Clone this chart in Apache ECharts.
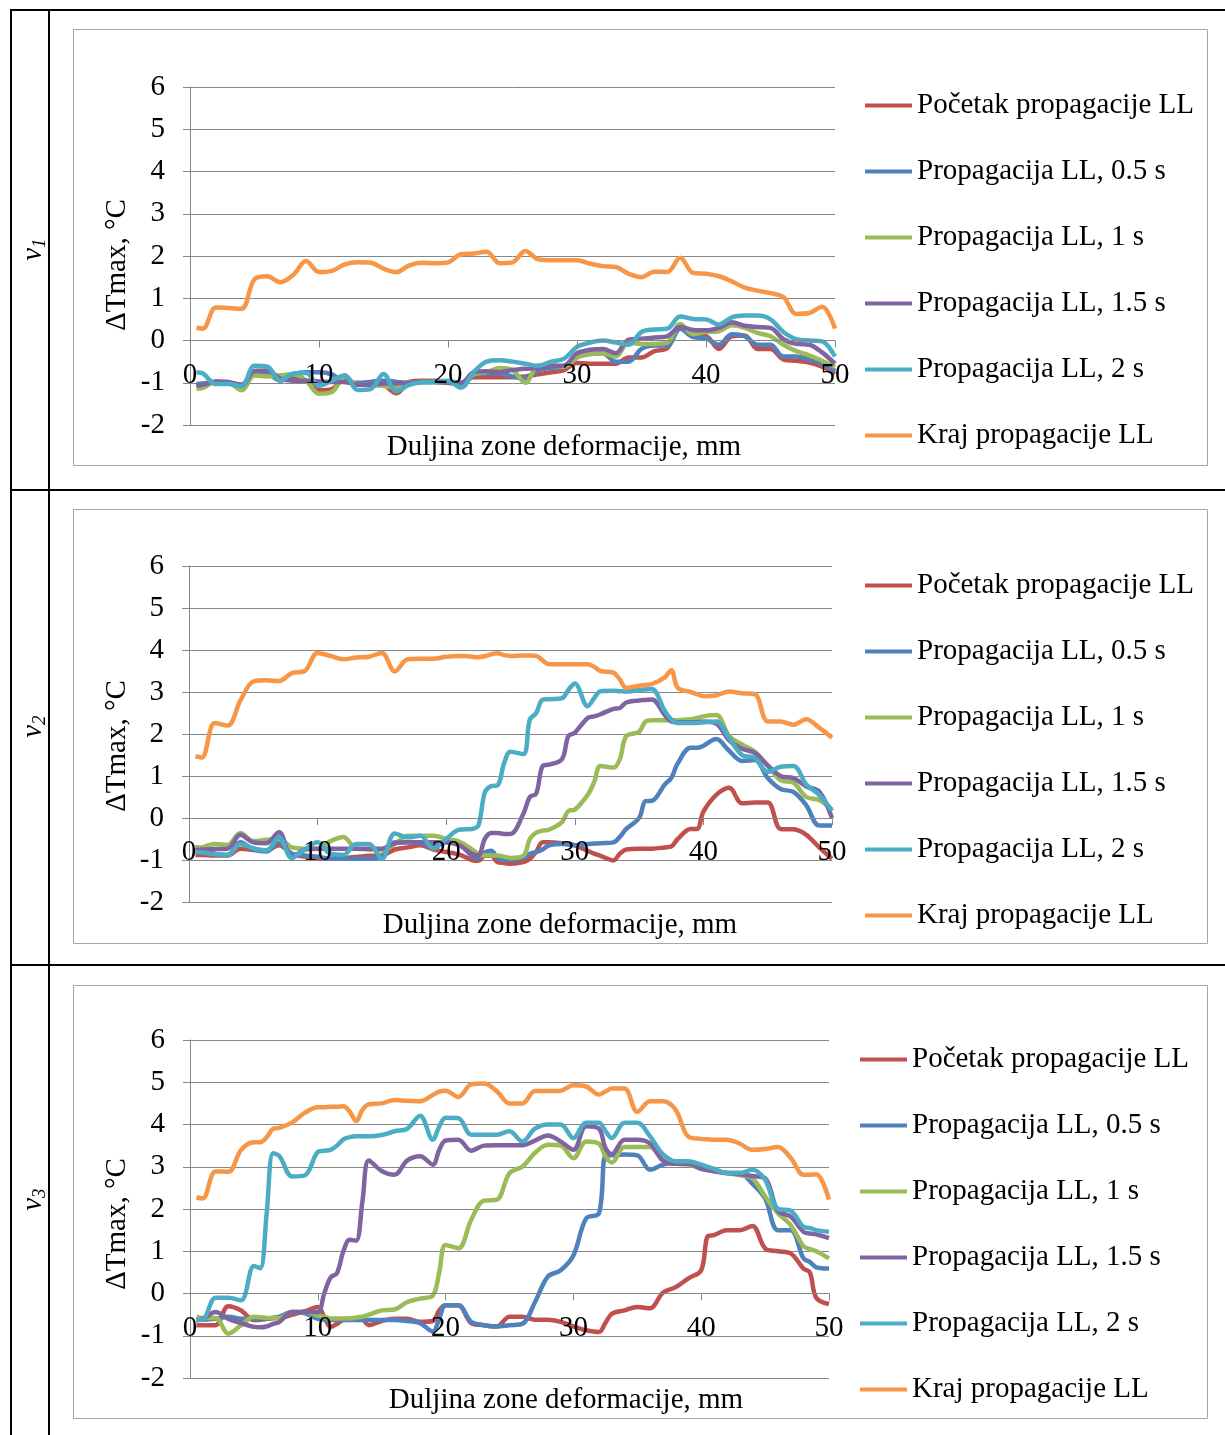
<!DOCTYPE html>
<html>
<head>
<meta charset="utf-8">
<script src="https://cdn.jsdelivr.net/npm/echarts@6/dist/echarts.min.js"></script>
<style>
  html, body { margin: 0; padding: 0; background: #fff; }
  #main { width: 1225px; height: 1435px; }
</style>
</head>
<body>
<div id="main"></div>
<script>
const names = ['Početak propagacije LL', 'Propagacija LL, 0.5 s', 'Propagacija LL, 1 s',
  'Propagacija LL, 1.5 s', 'Propagacija LL, 2 s', 'Kraj propagacije LL'];
const rowTags = ['1', '2', '3'];

// ---- v1: x positions (mm) and the six curves ----
const xs1 = [0.5, 1, 2, 3, 4, 5, 6, 7, 8, 9, 10,
  11, 12, 13, 14, 15, 16, 17, 18, 19, 20,
  21, 22, 23, 24, 25, 26, 27, 28, 29, 30,
  31, 32, 33, 34, 35, 36, 37, 38, 39, 40,
  41, 42, 43, 44, 45, 46, 47, 48, 49, 50];
const v1Start = [-1.05, -1.03, -0.98, -1.0, -1.05, -0.75, -0.78, -0.92, -0.9, -0.95, -1.18,
  -1.15, -0.9, -1.05, -1.02, -1.05, -1.25, -0.98, -0.95, -0.95, -0.97,
  -1.0, -0.87, -0.87, -0.87, -0.87, -0.85, -0.8, -0.75, -0.7, -0.53,
  -0.55, -0.55, -0.55, -0.4, -0.4, -0.25, -0.18, 0.32, 0.12, 0.1,
  -0.2, 0.1, 0.12, -0.2, -0.2, -0.45, -0.48, -0.52, -0.62, -0.79];
const v1Half = [-1.03, -1.02, -0.98, -1.0, -1.05, -0.75, -0.78, -0.95, -0.8, -0.75, -0.75,
  -0.8, -0.98, -1.0, -0.98, -0.95, -0.98, -1.0, -0.98, -0.98, -1.0,
  -1.0, -0.8, -0.78, -0.78, -0.85, -0.9, -0.7, -0.65, -0.62, -0.4,
  -0.32, -0.3, -0.5, -0.5, -0.2, -0.12, -0.12, 0.28, 0.08, 0.05,
  -0.1, 0.15, 0.1, -0.1, -0.1, -0.38, -0.38, -0.45, -0.55, -0.72];
const v1One = [-1.14, -1.12, -0.98, -1.0, -1.18, -0.83, -0.85, -0.82, -0.8, -0.95, -1.26,
  -1.22, -0.85, -1.05, -1.05, -1.08, -1.1, -1.0, -0.98, -0.98, -1.0,
  -1.05, -0.8, -0.75, -0.65, -0.7, -1.0, -0.6, -0.6, -0.62, -0.4,
  -0.32, -0.3, -0.38, -0.05, -0.08, -0.08, -0.05, 0.39, 0.15, 0.2,
  0.22, 0.36, 0.3, 0.18, 0.1, -0.1, -0.25, -0.35, -0.48, -0.63];
const v1OneHalf = [-1.07, -1.05, -0.97, -0.98, -1.07, -0.72, -0.71, -0.9, -0.95, -0.95, -0.97,
  -0.98, -0.98, -1.05, -1.05, -1.02, -1.02, -1.0, -0.98, -0.98, -1.0,
  -1.02, -0.75, -0.73, -0.75, -0.7, -0.67, -0.65, -0.6, -0.59, -0.3,
  -0.22, -0.2, -0.3, 0.02, 0.04, 0.07, 0.1, 0.32, 0.25, 0.24,
  0.3, 0.43, 0.35, 0.32, 0.3, 0.03, -0.08, -0.1, -0.28, -0.55];
const v1Two = [-0.75, -0.78, -1.03, -1.03, -1.08, -0.6, -0.62, -0.95, -0.78, -0.77, -1.07,
  -0.95, -0.82, -1.17, -1.15, -0.79, -1.2, -1.05, -0.99, -0.98, -0.95,
  -1.12, -0.75, -0.5, -0.47, -0.5, -0.55, -0.6, -0.5, -0.43, -0.15,
  -0.05, 0.0, -0.05, -0.1, 0.2, 0.26, 0.28, 0.57, 0.51, 0.5,
  0.38, 0.55, 0.59, 0.59, 0.5, 0.2, 0.03, 0.0, -0.02, -0.38];
const v1End = [0.3, 0.28, 0.78, 0.77, 0.75, 1.45, 1.52, 1.38, 1.55, 1.88, 1.62,
  1.65, 1.8, 1.85, 1.84, 1.7, 1.62, 1.78, 1.84, 1.83, 1.85,
  2.04, 2.06, 2.1, 1.83, 1.85, 2.12, 1.92, 1.9, 1.9, 1.9,
  1.82, 1.76, 1.74, 1.58, 1.5, 1.63, 1.62, 1.96, 1.6, 1.58,
  1.52, 1.4, 1.25, 1.18, 1.12, 1.03, 0.63, 0.65, 0.8, 0.28];

// ---- v2 (extra half-mm points where the curves step up) ----
const xs2 = [0.5, 1, 2, 3, 4, 5, 6, 7, 8, 9, 10,
  11, 12, 13, 14, 15, 16, 17, 18, 19, 20,
  21, 22, 22.5, 23, 23.5, 24, 24.5, 25, 26, 26.5, 27, 27.5, 28, 29, 29.5, 30,
  31, 31.5, 32, 33, 33.5, 34, 35, 35.5, 36, 37, 37.5, 38, 39, 39.5, 40,
  41, 42, 43, 44, 45, 46, 47, 48, 49, 50];
const v2Start = [-0.88, -0.88, -0.89, -0.89, -0.73, -0.76, -0.77, -0.65, -0.85, -0.92, -0.95,
  -0.97, -0.95, -0.93, -0.9, -0.89, -0.75, -0.7, -0.65, -0.75, -0.81,
  -0.87, -1.0, -1.02, -0.9, -0.9, -1.05, -1.07, -1.09, -1.05, -0.97, -0.8, -0.58, -0.58, -0.6, -0.62, -0.65,
  -0.78, -0.85, -0.9, -1.01, -0.85, -0.75, -0.73, -0.73, -0.73, -0.7, -0.68, -0.5, -0.26, -0.26, 0.15,
  0.55, 0.72, 0.35, 0.37, 0.37, -0.26, -0.27, -0.4, -0.7, -0.97];
const v2Half = [-0.7, -0.72, -0.85, -0.88, -0.58, -0.75, -0.8, -0.58, -0.85, -0.89, -0.92,
  -0.97, -0.97, -0.97, -0.97, -0.9, -0.58, -0.58, -0.6, -0.65, -0.58,
  -0.62, -0.9, -0.95, -0.82, -0.78, -0.95, -1.0, -1.0, -0.95, -0.85, -0.81, -0.75, -0.65, -0.62, -0.63, -0.65,
  -0.62, -0.61, -0.6, -0.58, -0.45, -0.26, 0.0, 0.4, 0.41, 0.8, 0.95, 1.3, 1.67, 1.67, 1.72,
  1.88, 1.6, 1.36, 1.38, 0.95, 0.69, 0.62, 0.3, -0.18, -0.18];
const v2One = [-0.73, -0.7, -0.62, -0.64, -0.36, -0.55, -0.52, -0.5, -0.7, -0.73, -0.73,
  -0.55, -0.45, -0.73, -0.75, -0.77, -0.62, -0.42, -0.42, -0.42, -0.5,
  -0.56, -0.75, -0.85, -0.89, -0.89, -0.89, -0.92, -0.95, -0.9, -0.5, -0.35, -0.3, -0.28, -0.1, 0.17, 0.2,
  0.55, 0.85, 1.24, 1.2, 1.4, 1.95, 2.05, 2.3, 2.33, 2.33, 2.33, 2.33, 2.35, 2.38, 2.42,
  2.45, 1.95, 1.75, 1.58, 1.25, 0.9, 0.84, 0.5, 0.43, 0.2];
const v2OneHalf = [-0.77, -0.75, -0.74, -0.73, -0.4, -0.58, -0.6, -0.34, -0.95, -0.75, -0.73,
  -0.73, -0.73, -0.73, -0.73, -0.73, -0.6, -0.58, -0.58, -0.58, -0.58,
  -0.65, -0.85, -0.89, -0.5, -0.36, -0.36, -0.38, -0.38, 0.1, 0.5, 0.58, 1.24, 1.27, 1.4, 1.95, 2.03,
  2.38, 2.42, 2.47, 2.6, 2.62, 2.75, 2.8, 2.81, 2.82, 2.45, 2.3, 2.28, 2.28, 2.28, 2.3,
  2.25, 1.85, 1.65, 1.55, 1.25, 1.0, 0.95, 0.75, 0.63, 0.0];
const v2Two = [-0.81, -0.82, -0.86, -0.88, -0.62, -0.72, -0.77, -0.46, -0.95, -0.75, -0.58,
  -0.85, -0.88, -0.62, -0.62, -0.97, -0.37, -0.46, -0.42, -0.73, -0.5,
  -0.28, -0.26, -0.18, 0.6, 0.76, 0.78, 1.3, 1.58, 1.52, 2.34, 2.5, 2.82, 2.83, 2.85, 3.05, 3.2,
  2.66, 2.85, 3.02, 3.03, 3.02, 3.01, 3.05, 3.06, 3.07, 2.55, 2.35, 2.26, 2.26, 2.26, 2.28,
  2.3, 1.9, 1.5, 1.43, 1.1, 1.22, 1.24, 0.8, 0.55, 0.17];
const v2End = [1.47, 1.44, 2.26, 2.2, 2.8, 3.25, 3.28, 3.26, 3.45, 3.5, 3.93,
  3.86, 3.78, 3.82, 3.84, 3.93, 3.49, 3.78, 3.79, 3.79, 3.84,
  3.86, 3.84, 3.83, 3.85, 3.9, 3.92, 3.88, 3.86, 3.87, 3.87, 3.86, 3.75, 3.66, 3.66, 3.66, 3.66,
  3.66, 3.6, 3.5, 3.46, 3.3, 3.1, 3.15, 3.17, 3.19, 3.35, 3.52, 3.1, 3.0, 2.95, 2.9,
  2.92, 3.01, 2.97, 2.95, 2.3, 2.3, 2.22, 2.35, 2.15, 1.91];

// ---- v3 ----
const xs3 = [0.5, 1, 2, 3, 4, 5, 5.5, 6, 6.5, 7, 8, 9, 10,
  10.5, 11, 11.5, 12, 12.5, 13, 13.5, 14, 15, 16, 17, 18, 19, 19.5, 20,
  21, 22, 23, 24, 25, 26, 27, 28, 29, 30, 31, 32, 32.5, 33, 34, 35, 36, 37, 38, 39, 40, 40.5,
  41, 42, 43, 44, 45, 46, 47, 48, 48.5, 49, 50];
const v3Start = [-0.75, -0.75, -0.75, -0.3, -0.4, -0.63, -0.62, -0.6, -0.58, -0.58, -0.5, -0.42, -0.32,
  -0.55, -0.79, -0.72, -0.62, -0.6, -0.6, -0.62, -0.75, -0.65, -0.6, -0.6, -0.67, -0.65, -0.4, -0.28,
  -0.28, -0.7, -0.75, -0.78, -0.55, -0.55, -0.62, -0.62, -0.67, -0.78, -0.87, -0.91, -0.7, -0.48, -0.4, -0.32, -0.35, 0.02, 0.15, 0.36, 0.55, 1.35,
  1.38, 1.5, 1.5, 1.6, 1.07, 1.0, 0.95, 0.59, 0.5, -0.1, -0.25];
const v3Half = [-0.63, -0.62, -0.6, -0.55, -0.6, -0.6, -0.6, -0.6, -0.58, -0.55, -0.44, -0.47, -0.6,
  -0.62, -0.63, -0.63, -0.63, -0.63, -0.63, -0.63, -0.63, -0.63, -0.63, -0.65, -0.7, -0.9, -0.6, -0.28,
  -0.28, -0.67, -0.75, -0.78, -0.75, -0.72, -0.2, 0.4, 0.55, 0.9, 1.78, 1.9, 3.26, 3.27, 3.29, 3.27, 2.93, 3.05, 3.1, 3.1, 3.0, 2.97,
  2.92, 2.85, 2.85, 2.6, 2.25, 1.5, 1.5, 0.83, 0.75, 0.62, 0.59];
const v3One = [-0.55, -0.58, -0.58, -0.95, -0.75, -0.55, -0.56, -0.58, -0.58, -0.58, -0.44, -0.44, -0.52,
  -0.55, -0.59, -0.59, -0.59, -0.59, -0.57, -0.55, -0.5, -0.4, -0.38, -0.2, -0.12, -0.05, 0.5, 1.15,
  1.07, 1.74, 2.2, 2.22, 2.85, 3.0, 3.33, 3.52, 3.5, 3.2, 3.6, 3.55, 3.25, 3.1, 3.47, 3.47, 3.47, 3.15, 3.07, 3.05, 2.95, 2.92,
  2.9, 2.85, 2.8, 2.73, 2.3, 1.9, 1.62, 1.12, 1.05, 1.0, 0.83];
const v3OneHalf = [-0.63, -0.6, -0.44, -0.6, -0.7, -0.79, -0.8, -0.78, -0.72, -0.67, -0.44, -0.44, -0.44,
  0.0, 0.38, 0.48, 1.0, 1.27, 1.25, 2.2, 3.15, 2.9, 2.81, 3.15, 3.25, 3.05, 3.4, 3.62,
  3.64, 3.38, 3.5, 3.51, 3.51, 3.51, 3.62, 3.74, 3.6, 3.4, 3.96, 3.9, 3.45, 3.3, 3.64, 3.64, 3.55, 3.15, 3.07, 3.07, 2.95, 2.92,
  2.89, 2.85, 2.83, 2.78, 2.73, 1.95, 1.82, 1.46, 1.42, 1.4, 1.31];
const v3Two = [-0.63, -0.62, -0.1, -0.1, -0.16, 0.65, 0.6, 1.9, 3.32, 3.25, 2.77, 2.8, 3.35,
  3.38, 3.4, 3.5, 3.65, 3.7, 3.72, 3.72, 3.72, 3.75, 3.84, 3.9, 4.21, 3.64, 3.95, 4.16,
  4.15, 3.76, 3.76, 3.76, 3.84, 3.6, 3.9, 4.0, 4.0, 3.68, 4.04, 4.04, 3.85, 3.68, 4.04, 4.04, 3.72, 3.3, 3.13, 3.13, 3.05, 3.0,
  2.95, 2.85, 2.85, 2.93, 2.69, 2.0, 1.96, 1.58, 1.55, 1.5, 1.46];
const v3End = [2.27, 2.25, 2.89, 2.88, 3.4, 3.58, 3.58, 3.7, 3.9, 3.92, 4.05, 4.28, 4.41,
  4.41, 4.42, 4.42, 4.43, 4.3, 4.08, 4.35, 4.48, 4.5, 4.58, 4.56, 4.55, 4.7, 4.78, 4.8,
  4.65, 4.95, 4.97, 4.79, 4.5, 4.5, 4.79, 4.79, 4.8, 4.93, 4.9, 4.71, 4.78, 4.85, 4.85, 4.3, 4.55, 4.55, 4.35, 3.71, 3.66, 3.65,
  3.64, 3.64, 3.55, 3.4, 3.42, 3.47, 3.21, 2.81, 2.81, 2.82, 2.22];

const colors = ['#C0504D', '#4F81BD', '#9BBB59', '#8064A2', '#4BACC6', '#F79646'];
const FONT = '"Liberation Serif", "Times New Roman", serif';
const FS = 29;
const GRAY = '#868686';
const Y_MIN = -2, Y_MAX = 6;

// layout of the three table rows
const panels = [
  { xs: xs1, series: [v1Start, v1Half, v1One, v1OneHalf, v1Two, v1End],
    grid: { left: 190, top: 87, width: 645, height: 338 },
    legend: { left: 865, top: 91 }, frame: [73.5, 29.5, 1134, 436],
    yTitle: [117, 265], xTitle: [564, 447], rowMid: 250 },
  { xs: xs2, series: [v2Start, v2Half, v2One, v2OneHalf, v2Two, v2End],
    grid: { left: 189, top: 566, width: 643, height: 336 },
    legend: { left: 865, top: 571 }, frame: [73.5, 509.5, 1134, 434],
    yTitle: [117, 746], xTitle: [560, 925], rowMid: 727 },
  { xs: xs3, series: [v3Start, v3Half, v3One, v3OneHalf, v3Two, v3End],
    grid: { left: 190, top: 1040, width: 639, height: 338 },
    legend: { left: 860, top: 1045 }, frame: [73.5, 985.5, 1134, 433],
    yTitle: [117, 1224], xTitle: [566, 1400], rowMid: 1200 }
];

const graphics = [];

// table borders
const tableLines = [[10, 10, 1225, 10], [10, 490, 1225, 490], [10, 965, 1225, 965],
  [11, 9, 11, 1435], [49, 9, 49, 1435]];
tableLines.forEach(l => graphics.push({
  type: 'line', silent: true,
  shape: { x1: l[0], y1: l[1], x2: l[2], y2: l[3] },
  style: { stroke: '#000', lineWidth: 2 }
}));

panels.forEach((p, i) => {
  graphics.push({
    type: 'rect', silent: true, z: -1,
    shape: { x: p.frame[0], y: p.frame[1], width: p.frame[2], height: p.frame[3] },
    style: { fill: null, stroke: '#a6a6a6', lineWidth: 1 }
  });
  graphics.push({
    type: 'text', silent: true, x: p.yTitle[0], y: p.yTitle[1], rotation: Math.PI / 2,
    style: { text: 'ΔTmax, °C', font: FS + 'px ' + FONT, fill: '#000',
      align: 'center', verticalAlign: 'middle', textAlign: 'center', textVerticalAlign: 'middle' }
  });
  graphics.push({
    type: 'text', silent: true, x: p.xTitle[0], y: p.xTitle[1],
    style: { text: 'Duljina zone deformacije, mm', font: FS + 'px ' + FONT, fill: '#000',
      align: 'center', verticalAlign: 'middle', textAlign: 'center', textVerticalAlign: 'middle' }
  });
  // row label v1 / v2 / v3, rotated, with subscript
  graphics.push({
    type: 'group', x: 35, y: p.rowMid, rotation: Math.PI / 2, silent: true,
    children: [
      { type: 'text', x: 2, y: -2,
        style: { text: 'v', font: 'italic 29px ' + FONT, fill: '#000',
          align: 'right', verticalAlign: 'middle', textAlign: 'right', textVerticalAlign: 'middle' } },
      { type: 'text', x: 2, y: 5,
        style: { text: rowTags[i], font: 'italic 19px ' + FONT, fill: '#000',
          align: 'left', verticalAlign: 'middle', textAlign: 'left', textVerticalAlign: 'middle' } }
    ]
  });
});

const option = {
  animation: false,
  backgroundColor: '#fff',
  grid: panels.map(p => Object.assign({ containLabel: false }, p.grid)),
  legend: panels.map(p => ({
    orient: 'vertical', left: p.legend.left, top: p.legend.top, padding: 0,
    icon: 'rect', itemWidth: 47, itemHeight: 4, itemGap: 37,
    textStyle: { fontFamily: FONT, fontSize: FS, lineHeight: FS, color: '#000' },
    data: names
  })),
  // the x axis crosses the y axis at 0: shift it up from the bottom of the grid
  xAxis: panels.map((p, i) => ({
    type: 'value', gridIndex: i, min: 0, max: 50, interval: 10, z: 10,
    position: 'bottom',
    offset: -p.grid.height * (0 - Y_MIN) / (Y_MAX - Y_MIN),
    axisLine: { show: true, onZero: false, lineStyle: { color: GRAY, width: 1 } },
    axisTick: { show: true, length: 7, lineStyle: { color: GRAY } },
    axisLabel: { margin: 20, fontFamily: FONT, fontSize: FS, color: '#000',
      showMinLabel: true, showMaxLabel: true },
    splitLine: { show: false }
  })),
  yAxis: panels.map((p, i) => ({
    type: 'value', gridIndex: i, min: Y_MIN, max: Y_MAX, interval: 1,
    axisLine: { show: true, lineStyle: { color: GRAY, width: 1 } },
    axisTick: { show: true, length: 7, lineStyle: { color: GRAY } },
    axisLabel: { margin: 25, fontFamily: FONT, fontSize: FS, color: '#000' },
    splitLine: { show: true, lineStyle: { color: GRAY, width: 1 } }
  })),
  series: [],
  graphic: { elements: graphics }
};

panels.forEach((p, i) => {
  p.series.forEach((vals, k) => {
    option.series.push({
      name: names[k], type: 'line', xAxisIndex: i, yAxisIndex: i,
      data: p.xs.map((x, j) => [x, vals[j]]),
      symbol: 'none', showSymbol: false, smooth: 0.35,
      lineStyle: { width: 4.5, color: colors[k] },
      itemStyle: { color: colors[k] },
      z: 2 + k
    });
  });
});

const chart = echarts.init(document.getElementById('main'));
chart.setOption(option);
</script>
</body>
</html>
